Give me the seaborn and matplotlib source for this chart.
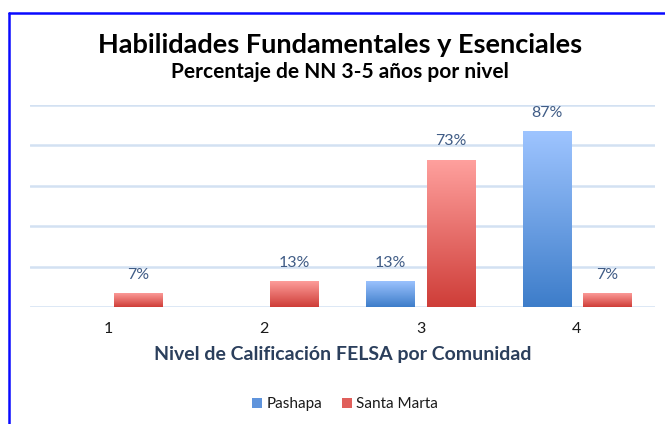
import numpy as np
import pandas as pd
import matplotlib
matplotlib.use("Agg")
import matplotlib.pyplot as plt
import seaborn as sns
from matplotlib.colors import LinearSegmentedColormap
from matplotlib.patches import Rectangle
from matplotlib.lines import Line2D

# Data
niveles = ["1", "2", "3", "4"]
pashapa = [np.nan, np.nan, 13, 87]
santa_marta = [7, 13, 73, 7]
comunidades = ["Pashapa", "Santa Marta"]

titulo = "Habilidades Fundamentales y Esenciales"
subtitulo = "Percentaje de NN 3-5 años por nivel"
eje_x = "Nivel de Calificación FELSA por Comunidad"

rows = []
for nivel, p, s in zip(niveles, pashapa, santa_marta):
    if not np.isnan(p):
        rows.append({"nivel": nivel, "comunidad": "Pashapa", "pct": p})
    if not np.isnan(s):
        rows.append({"nivel": nivel, "comunidad": "Santa Marta", "pct": s})
df = pd.DataFrame(rows)

sns.set_theme(style="white")
plt.rcParams["font.family"] = ["Lato", "DejaVu Sans"]

# gradient endpoints (top, bottom) per community
grad = {
    "Pashapa": ((0.62, 0.77, 1.0), (0.24, 0.49, 0.79)),
    "Santa Marta": ((1.0, 0.63, 0.62), (0.81, 0.24, 0.22)),
}
solid = {"Pashapa": "#5f94dc", "Santa Marta": "#e05f5b"}

fig = plt.figure(figsize=(6.65, 4.24), dpi=100)
ax = fig.add_axes([30 / 665, 1 - 307 / 424, 625 / 665, 202 / 424])

sns.barplot(data=df, x="nivel", y="pct", hue="comunidad", order=niveles,
            hue_order=comunidades, palette=solid, width=0.77, gap=0.2,
            ax=ax, legend=False, zorder=3)

ax.set_xlim(-0.5, 3.5)
ax.set_ylim(0, 100)
ax.set_yticks([0, 20, 40, 60, 80, 100])
ax.yaxis.grid(True, color="#d3e1f2", linewidth=1.8)
ax.set_axisbelow(True)
for sp in ax.spines.values():
    sp.set_visible(False)
ax.tick_params(axis="y", left=False, labelleft=False)
ax.tick_params(axis="x", bottom=False, labelsize=11.5, colors="#1a1a1a", pad=5)
ax.set_ylabel("")
ax.set_xlabel(eje_x, fontsize=14, fontweight="bold", color="#2b3f5c", labelpad=7)

# vertical gradient fill for every bar
for cont, com in zip(ax.containers, comunidades):
    top, bot = grad[com]
    cmap = LinearSegmentedColormap.from_list(com, [bot, top])
    for bar in cont:
        x0, y0 = bar.get_x(), bar.get_y()
        w, h = bar.get_width(), bar.get_height()
        if not np.isfinite(h) or h <= 0:
            continue
        img = ax.imshow(np.linspace(0, 1, 256).reshape(-1, 1), cmap=cmap,
                        origin="lower", aspect="auto",
                        extent=(x0, x0 + w, y0, y0 + h), zorder=3.5)
        img.set_clip_path(bar)
        bar.set_facecolor("none")
        bar.set_edgecolor("none")
    ax.bar_label(cont, labels=[f"{v:.0f}%" for v in cont.datavalues],
                 padding=8, fontsize=11.5, color="#405c86", zorder=5)

ax.set_xlim(-0.5, 3.5)
ax.set_ylim(0, 100)

fig.text(340 / 665, 1 - 45 / 424, titulo, ha="center", va="center",
         fontsize=19.5, fontweight="bold", color="#000000")
fig.text(340 / 665, 1 - 72 / 424, subtitulo, ha="center", va="center",
         fontsize=15, fontweight="bold", color="#000000")

handles = [Rectangle((0, 0), 1, 1, facecolor=solid[c], edgecolor="none") for c in comunidades]
fig.legend(handles, comunidades, loc="center", bbox_to_anchor=(345 / 665, 1 - 404 / 424),
           ncol=2, frameon=False, fontsize=11, handlelength=0.65, handleheight=0.65,
           handletextpad=0.3, columnspacing=1.3, labelcolor="#1a1a1a")

# chart frame edges
fig.add_artist(Line2D([9 / 665, 9 / 665], [0, 1 - 13 / 424], color="#0a0aff",
                      linewidth=1.8, transform=fig.transFigure))
fig.add_artist(Line2D([9 / 665, 1], [1 - 13 / 424, 1 - 13 / 424], color="#0a0aff",
                      linewidth=1.8, transform=fig.transFigure))

fig.savefig("out.png", dpi=100, facecolor="white")
